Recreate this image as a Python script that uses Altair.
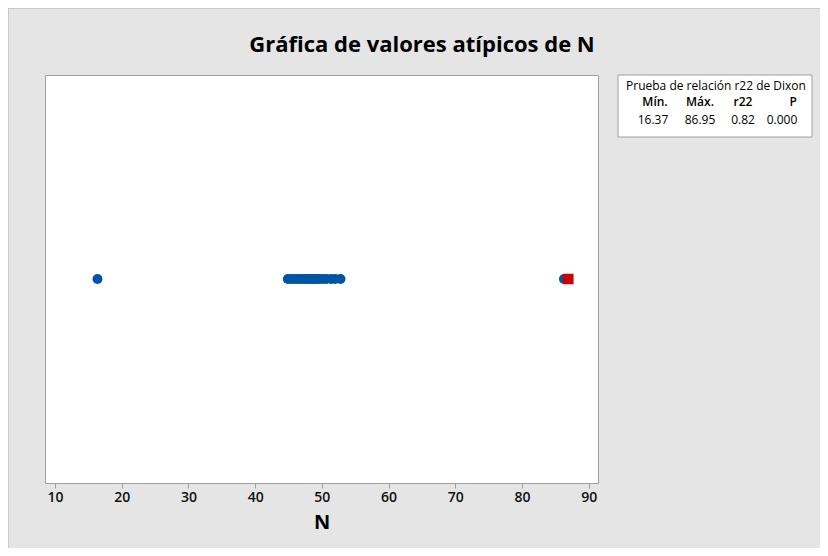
import altair as alt
import pandas as pd

# Data
cluster_values = [44.9, 45.4, 45.9, 46.3, 46.7, 47.1, 47.5, 47.8, 48.1, 48.4, 48.7, 49.0,
                  49.3, 49.7, 50.2, 50.7, 51.4, 52.0, 52.8]
low_values = [16.37]
high_values = [86.3]
outlier_values = [86.95]

chart_title = "Gráfica de valores atípicos de N"
table_title = "Prueba de relación r22 de Dixon"
table_headers = ["Mín.", "Máx.", "r22", "P"]
table_values = ["16.37", "86.95", "0.82", "0.000"]

W, H = 553, 408
FONT = "Open Sans"

pts = pd.DataFrame({
    "N": cluster_values + low_values + high_values + outlier_values,
    "row": [0] * (len(cluster_values) + len(low_values) + len(high_values) + len(outlier_values)),
    "kind": ["normal"] * (len(cluster_values) + len(low_values) + len(high_values)) + ["outlier"] * len(outlier_values),
})

xscale = alt.Scale(domain=[8.5, 91.4], nice=False, zero=False)
yscale = alt.Scale(domain=[-1, 1])

base = alt.Chart(pts)
circles = base.transform_filter(alt.datum.kind == "normal").mark_point(
    shape="circle", filled=True, size=100, color="#0054A6", opacity=1
).encode(
    x=alt.X("N:Q", scale=xscale, axis=alt.Axis(
        values=[10, 20, 30, 40, 50, 60, 70, 80, 90], grid=False, title="N",
        labelFont=FONT, labelFontSize=14, labelFontWeight=600, labelColor="#111111", labelPadding=2,
        tickColor="#a0a0a0", tickSize=5, domain=False,
        titleFont=FONT, titleFontSize=20, titleFontWeight="bold", titleColor="#000000", titlePadding=8)),
    y=alt.Y("row:Q", scale=yscale, axis=None),
)
squares = base.transform_filter(alt.datum.kind == "outlier").mark_point(
    shape="square", filled=True, size=110, color="#CC0000", opacity=1
).encode(
    x=alt.X("N:Q", scale=xscale),
    y=alt.Y("row:Q", scale=yscale, axis=None),
)

# Thin border on the top and left edges of the figure
one = pd.DataFrame({"a": [0]})
top_edge = alt.Chart(one).mark_rule(stroke="#c0c0c0", strokeWidth=1.5).encode(
    x=alt.value(-37), x2=alt.value(790), y=alt.value(-67))
left_edge = alt.Chart(one).mark_rule(stroke="#c0c0c0", strokeWidth=1.5).encode(
    x=alt.value(-37), y=alt.value(-67), y2=alt.value(480))

# Chart title as a text mark
title = alt.Chart(pd.DataFrame({"t": [chart_title]})).mark_text(
    font=FONT, fontSize=22, fontWeight="bold", color="#000000", align="center", baseline="middle"
).encode(text="t:N", x=alt.value(377), y=alt.value(-30))

# Table box outside the plot area (right side)
box = alt.Chart(one).mark_rect(
    fill="#ffffff", stroke="#a0a0a0", strokeWidth=1
).encode(x=alt.value(573), x2=alt.value(767), y=alt.value(0), y2=alt.value(62))

layers = [top_edge, left_edge, title, circles, squares, box]
layers.append(alt.Chart(pd.DataFrame({"t": [table_title]})).mark_text(
    font=FONT, fontSize=12, fontWeight=500, color="#000000", align="center", baseline="middle"
).encode(text="t:N", x=alt.value(671), y=alt.value(11)))

col_x = [610, 655, 698, 752]
col_align = ["center", "center", "center", "right"]
for cx, al, h in zip(col_x, col_align, table_headers):
    layers.append(alt.Chart(pd.DataFrame({"t": [h]})).mark_text(
        font=FONT, fontSize=12, fontWeight=600, color="#000000", align=al, baseline="middle"
    ).encode(text="t:N", x=alt.value(cx), y=alt.value(27)))
for cx, v in zip([608, 655, 698, 737], table_values):
    layers.append(alt.Chart(pd.DataFrame({"t": [v]})).mark_text(
        font=FONT, fontSize=12, fontWeight=500, color="#000000", align="center", baseline="middle"
    ).encode(text="t:N", x=alt.value(cx), y=alt.value(45)))

chart = alt.layer(*layers).properties(
    width=W, height=H,
    autosize=alt.AutoSizeParams(type="none"),
    padding={"left": 37, "top": 67, "right": 222, "bottom": 65},
).configure(background="#e5e5e5").configure_view(stroke="#a0a0a0", strokeWidth=1, fill="#ffffff")

chart.save("out.html", embed_options={"renderer": "svg", "actions": False})
